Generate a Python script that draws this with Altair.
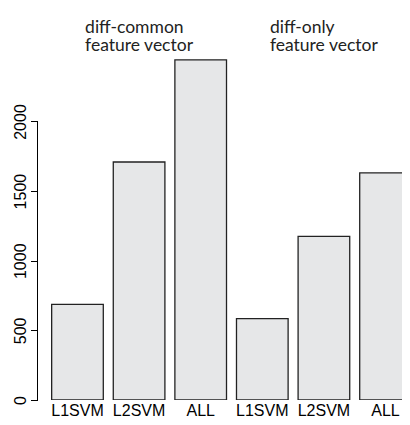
import altair as alt
import pandas as pd

groups = ["diff-common", "diff-only"]
methods = ["L1SVM", "L2SVM", "ALL"]
values_common = [686, 1709, 2443]
values_only = [584, 1175, 1631]
group_titles = ["diff-common\nfeature vector", "diff-only\nfeature vector"]
y_ticks = [0, 500, 1000, 1500, 2000]

rows = []
for g, vals in zip(groups, [values_common, values_only]):
    for m, v in zip(methods, vals):
        rows.append({"key": f"{g}|{m}", "group": g, "method": m, "value": v})
df = pd.DataFrame(rows)
order = list(df["key"])

title_df = pd.DataFrame({
    "key": [f"{g}|L2SVM" for g in groups],
    "label": group_titles,
})

xscale = alt.Scale(domain=order, range=[0, 388], paddingInner=0.162, paddingOuter=0.23)
yscale = alt.Scale(domain=[0, 2815], nice=False, zero=True)

bars = alt.Chart(df).mark_bar(
    fill="#e6e7e8", stroke="#222222", strokeWidth=1.3, clip=True
).encode(
    x=alt.X("key:N", scale=xscale, sort=order,
            axis=alt.Axis(title=None, domain=False, ticks=False, grid=False, labelAngle=0,
                          labelPadding=15, labelBaseline="alphabetic",
                          labelFontSize=16, labelFont="Liberation Sans",
                          labelColor="black", labelExpr="split(datum.value, '|')[1]")),
    y=alt.Y("value:Q", scale=yscale,
            axis=alt.Axis(title=None, domain=False, grid=False, values=y_ticks,
                          format="d",
                          tickSize=7, tickColor="black", tickWidth=1,
                          labelAngle=270, labelAlign="center", labelBaseline="alphabetic",
                          labelPadding=5, labelFontSize=16, labelFont="Liberation Sans",
                          labelColor="black")),
)

axis_line = alt.Chart(pd.DataFrame({"y0": [y_ticks[0]], "y1": [y_ticks[-1]]})).mark_rule(
    color="black", strokeWidth=1
).encode(
    x=alt.value(0),
    y=alt.Y("y0:Q", scale=yscale),
    y2="y1:Q",
)

titles = alt.Chart(title_df).mark_text(
    align="left", baseline="alphabetic", dx=-54, lineBreak="\n", lineHeight=18.5,
    fontSize=17.5, font="Lato", color="#222222"
).encode(
    x=alt.X("key:N", scale=xscale, sort=order),
    y=alt.value(24.5),
    text="label:N",
)

chart = alt.layer(bars, axis_line, titles).properties(
    width=364.5, height=392,
    padding={"left": 29.5, "top": 0, "right": 0, "bottom": 17},
    autosize=alt.AutoSizeParams(type="none"),
    background="white",
).configure_view(stroke="transparent", strokeWidth=0)

chart.save("out.html", embed_options={"renderer": "svg", "actions": False})
